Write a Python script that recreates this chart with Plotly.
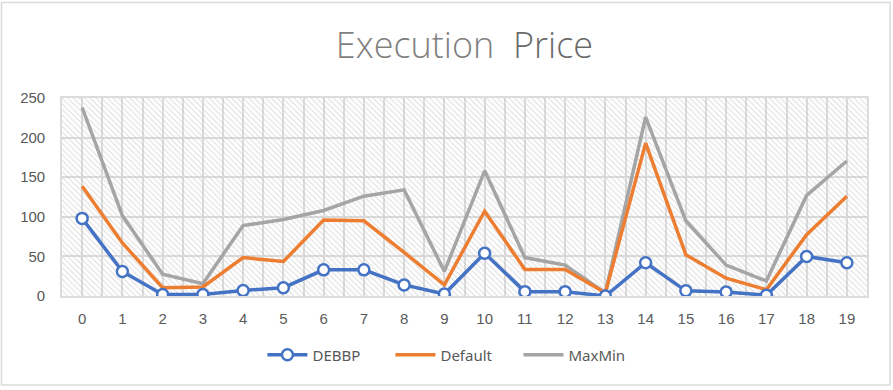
import plotly.graph_objects as go

categories = list(range(20))
debbp = [98, 31, 2, 2, 7, 10.5, 33, 33, 14, 2.5, 54, 5.5, 5.5, 0, 42, 6.5, 5, 1, 50, 42]
default = [138.5, 67, 10.5, 11.5, 48.5, 43.5, 96, 95, 55, 14, 107, 33.5, 33.5, 4, 193, 52, 22.5, 8, 77.5, 126]
maxmin = [238, 101.5, 27.5, 15.5, 89, 96.5, 108, 126, 134, 31, 158, 48.5, 39, 4, 226, 95, 39, 19, 127, 170.5]
y_ticks = [0, 50, 100, 150, 200, 250]

GRID = "#dcdcdc"
TXT = "#595959"

fig = go.Figure()

# decorative hatched plot-area background on hidden base axes
fig.add_trace(go.Bar(
    x=[0.5], y=[1], width=[1], xaxis="x", yaxis="y",
    marker=dict(color="rgba(0,0,0,0)", line=dict(width=0),
                pattern=dict(shape="\\", fgcolor="#bdbdbd", bgcolor="rgba(255,255,255,0)",
                             size=4, solidity=0.28)),
    showlegend=False, hoverinfo="skip",
))

fig.add_trace(go.Scatter(
    x=categories, y=maxmin, name="MaxMin", mode="lines", xaxis="x2", yaxis="y2",
    line=dict(color="#A5A5A5", width=3.5),
))
fig.add_trace(go.Scatter(
    x=categories, y=default, name="Default", mode="lines", xaxis="x2", yaxis="y2",
    line=dict(color="#ED7D31", width=3.5),
))
fig.add_trace(go.Scatter(
    x=categories, y=debbp, name="DEBBP", mode="lines+markers", xaxis="x2", yaxis="y2",
    line=dict(color="#4472C4", width=3.5),
    marker=dict(symbol="circle", size=11, color="white", line=dict(color="#4472C4", width=2.5)),
))

fig.update_layout(
    width=893, height=390,
    margin=dict(l=62, r=26, t=98, b=94),
    paper_bgcolor="white", plot_bgcolor="white",
    bargap=0,
    title=dict(
        text="Execution  <span style='color:#6a6a6a'>Price</span>",
        x=0.5, xref="paper", xanchor="center",
        y=1 - 45 / 390, yref="container", yanchor="middle",
        font=dict(family="Open Sans", size=36, color="#7f7f7f", weight=300),
    ),
    xaxis=dict(range=[0, 1], visible=False, fixedrange=True),
    yaxis=dict(range=[0, 1], visible=False, fixedrange=True),
    xaxis2=dict(
        overlaying="x", range=[-0.5, 19.5], tickmode="array", tickvals=categories,
        ticktext=[str(c) for c in categories],
        showgrid=True, gridcolor=GRID, gridwidth=1.6,
        minor=dict(dtick=0.5, tick0=-0.5, showgrid=True, gridcolor=GRID, gridwidth=1.6),
        showline=True, linecolor=GRID, linewidth=1.6, mirror=True,
        ticks="", zeroline=False,
        tickfont=dict(family="Liberation Sans", size=15, color=TXT),
        ticklabelstandoff=8,
    ),
    yaxis2=dict(
        overlaying="y", range=[0, 250], tickmode="array", tickvals=y_ticks,
        showgrid=True, gridcolor=GRID, gridwidth=1.6,
        showline=True, linecolor=GRID, linewidth=1.6, mirror=True,
        ticks="", zeroline=False,
        tickfont=dict(family="Liberation Sans", size=15, color=TXT),
        ticklabelstandoff=12,
    ),
    legend=dict(
        orientation="h", x=0.4875, xanchor="center", y=(296 - 355) / 198, yanchor="middle",
        font=dict(family="Noto Sans", size=15, color=TXT),
        traceorder="reversed", itemwidth=40, entrywidth=73,
    ),
    shapes=[dict(
        type="rect", xref="paper", yref="paper",
        x0=(1.5 - 62) / 805, x1=(890 - 62) / 805,
        y0=(296 - 385) / 198, y1=(296 - 2.5) / 198,
        line=dict(color=GRID, width=1.6), fillcolor="rgba(0,0,0,0)", layer="below",
    )],
)

fig.write_html("out.html", config={"displayModeBar": False},
               post_script="document.body.style.margin='0';document.body.style.overflow='hidden';")
